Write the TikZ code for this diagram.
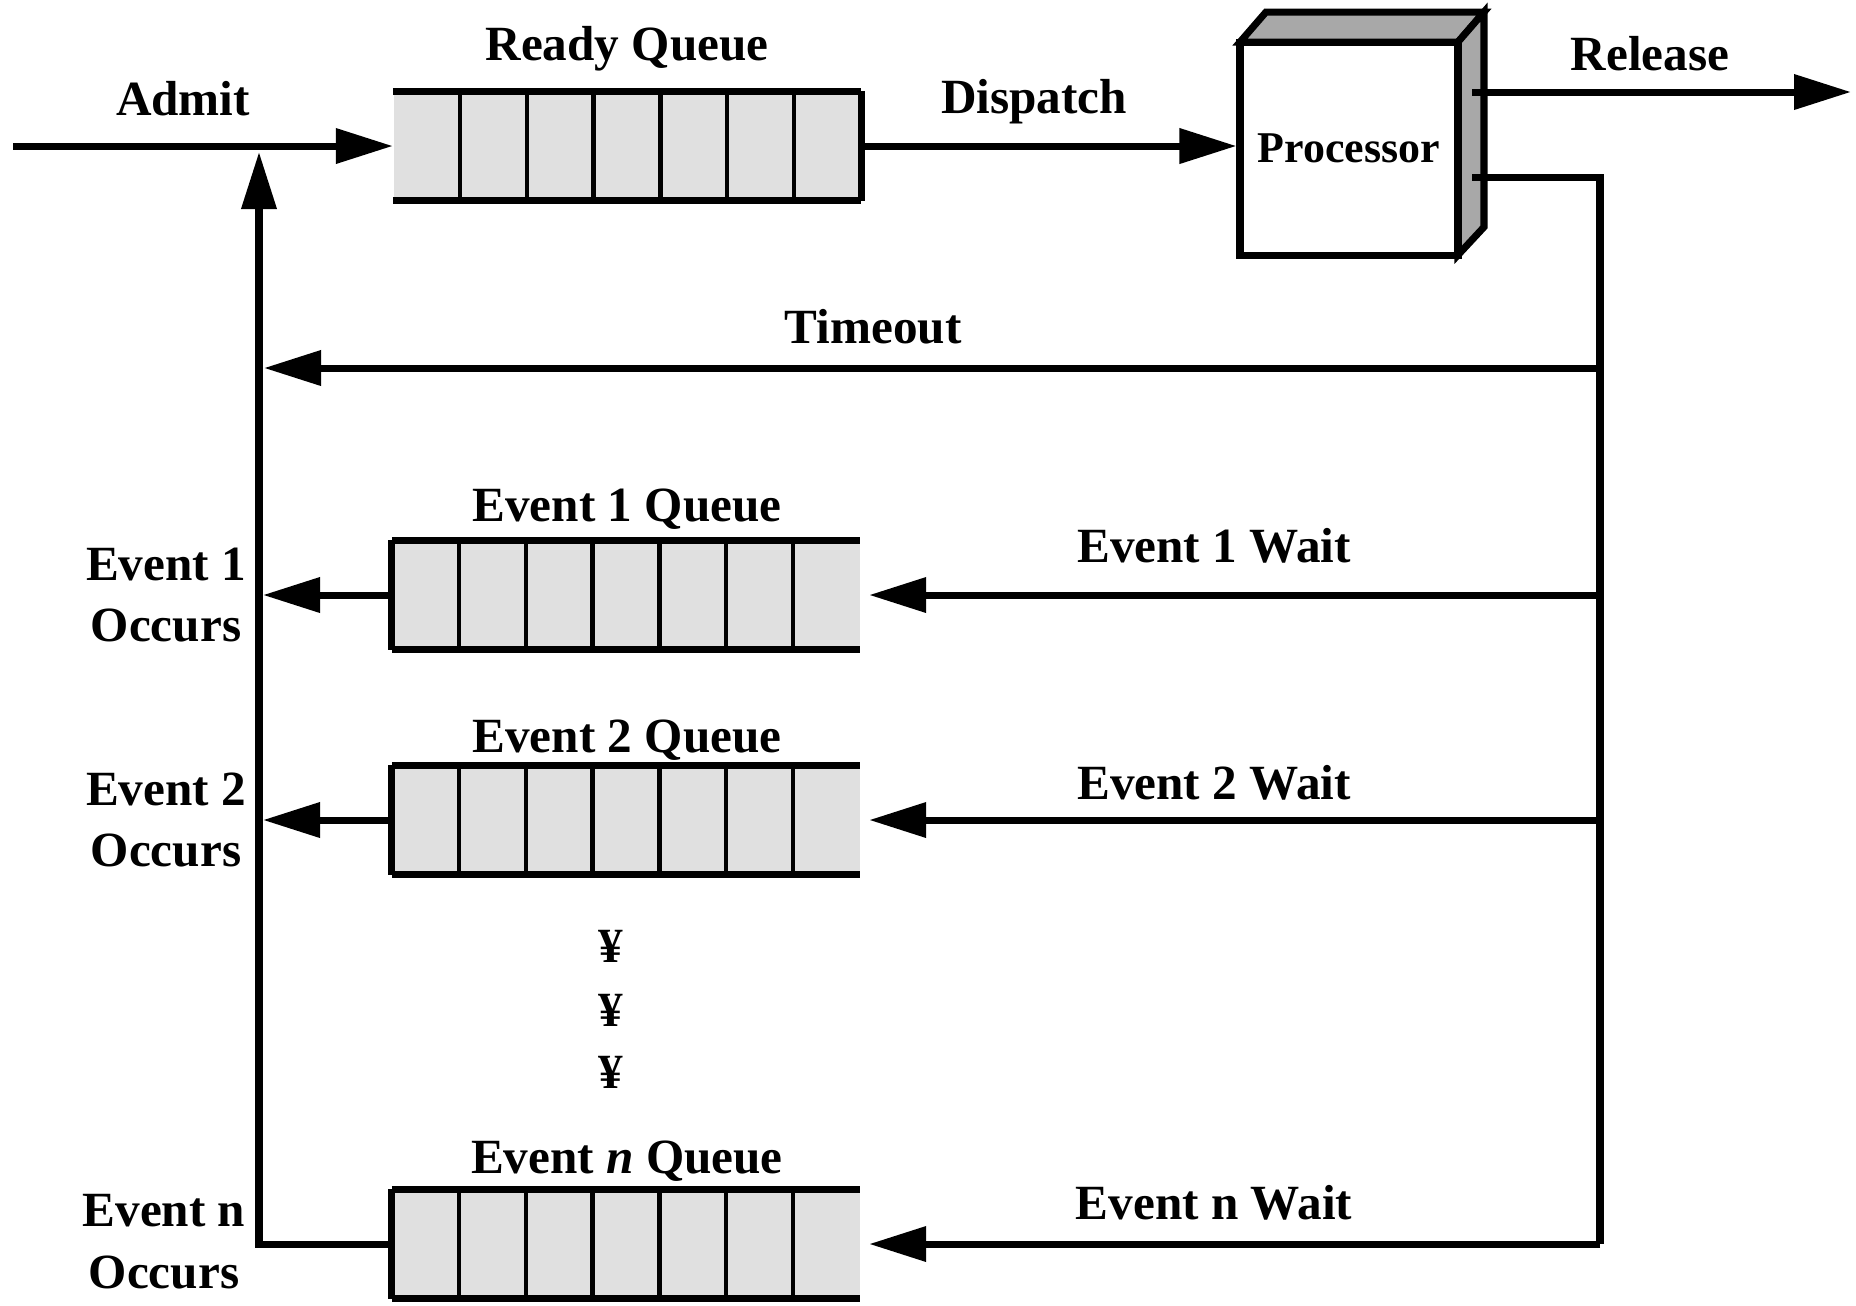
\documentclass[tikz,border=0pt]{standalone}
\usepackage{fontspec}
\setmainfont{Liberation Serif}
\usetikzlibrary{arrows.meta,calc}

\definecolor{qfill}{gray}{0.88}
\definecolor{pside}{gray}{0.66}

\tikzset{
  lbl/.style={font=\bfseries\fontsize{14}{17.6}\selectfont, inner sep=0pt},
  queue/.style={rectangle, fill=qfill, minimum width=4.67cm, minimum height=1.08cm, inner sep=0pt},
  qedge/.style={line width=2pt},
  qsep/.style={line width=1.2pt},
  wire/.style={line width=2pt},
  flow/.style={line width=2pt, -{Triangle[length=5.7mm,width=3.4mm]}},
}

\begin{document}
\begin{tikzpicture}[x=0.1mm, y=-0.1mm]
  \useasboundingbox (0,0) rectangle (1856,1305);

  \node[queue] (rq) at (627,146) {};
  \node[queue] (q1) at (626,595) {};
  \node[queue] (q2) at (626,820) {};
  \node[queue] (qn) at (626,1244) {};

  \foreach \q in {rq,q1,q2,qn} {
    \draw[qedge] (\q.north west) -- (\q.north east);
    \draw[qedge] (\q.south west) -- (\q.south east);
    \foreach \k in {1,...,6}
      \draw[qsep] ($(\q.north west)!\k/7!(\q.north east)$) -- ($(\q.south west)!\k/7!(\q.south east)$);
  }
  \draw[qedge] (rq.north east) -- (rq.south east);
  \foreach \q in {q1,q2,qn}
    \draw[qedge] (\q.north west) -- (\q.south west);

  \draw[line width=2pt, fill=pside] (1240,42) -- ++(26,-30) -- ++(218,0) -- ++(-26,30) -- cycle;
  \draw[line width=2pt, fill=pside] (1458,42) -- ++(26,-30) -- ++(0,215) -- ++(-26,28) -- cycle;
  \node[draw, line width=2pt, fill=white, minimum width=2.18cm, minimum height=2.13cm, inner sep=0pt,
        font=\bfseries\fontsize{12.5}{15}\selectfont] (proc) at (1349,148.5) {Processor};

  \node[lbl, anchor=base] (admit) at (183,115) {Admit};
  \node[lbl, anchor=base] (rqlbl) at (627,60) {Ready Queue};
  \node[lbl, anchor=base] (disp) at (1034,113) {Dispatch};
  \node[lbl, anchor=base] (rel) at (1650,70) {Release};
  \node[lbl, anchor=base] (tmo) at (873,343) {Timeout};
  \node[lbl, anchor=base] (q1lbl) at (627,521) {Event 1 Queue};
  \node[lbl, anchor=base] (q2lbl) at (627,752) {Event 2 Queue};
  \node[lbl, anchor=base] (qnlbl) at (627,1173) {Event \textit{n} Queue};
  \node[lbl, anchor=base] (w1lbl) at (1214,562) {Event 1 Wait};
  \node[lbl, anchor=base] (w2lbl) at (1214,799) {Event 2 Wait};
  \node[lbl, anchor=base] (wnlbl) at (1214,1219) {Event n Wait};
  \node[lbl, align=center] (occ1) at (166,595) {Event 1\\Occurs};
  \node[lbl, align=center] (occ2) at (166,820) {Event 2\\Occurs};
  \node[lbl, align=center] (occn) at (164,1242) {Event n\\Occurs};
  \foreach \y [count=\i] in {946,1010,1072}
    \node[lbl] (dot\i) at (611,\y) {¥};

  \coordinate (admitin) at (13,146);
  \coordinate (relout) at (1472,92);
  \coordinate (relend) at (1851,92);
  \coordinate (fbout) at (1472,177);
  \coordinate (fbr) at (1600,177);
  \coordinate (fbn) at (1600,1244);
  \coordinate (r0) at (259,146);
  \coordinate (rt) at (259,368);
  \coordinate (rn) at (259,1244);

  \draw[wire] (fbout) -- (fbr) -- (fbn);
  \path[flow]
  (admitin) edge (rq.west)
  (rq.east) edge (proc.west |- rq.east)
  (relout) edge (relend)
  (fbr |- rt) edge[shorten >=0.5mm] (rt)
  (fbr |- q1) edge[shorten >=0.9mm] (q1.east)
  (fbr |- q2) edge[shorten >=0.9mm] (q2.east)
  (fbn) edge[shorten >=0.9mm] (qn.east)
  (q1.west) edge[shorten >=0.4mm] (r0 |- q1)
  (q2.west) edge[shorten >=0.4mm] (r0 |- q2)
  ;
  \draw[flow, shorten >=0.6mm] (qn.west) -- (rn) -- (r0);
\end{tikzpicture}
\end{document}
